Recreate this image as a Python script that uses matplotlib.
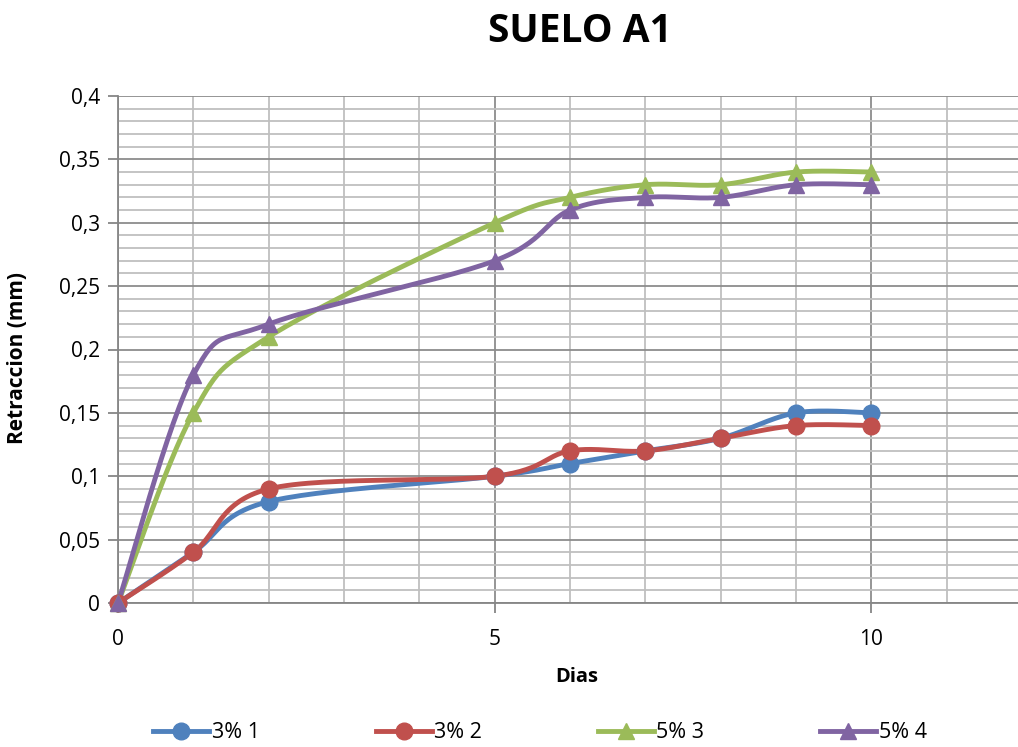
import numpy as np
import matplotlib
matplotlib.use("Agg")
import matplotlib.pyplot as plt
from matplotlib.ticker import MultipleLocator, FuncFormatter

dias = [0, 1, 2, 5, 6, 7, 8, 9, 10]
s1 = [0, 0.04, 0.08, 0.10, 0.11, 0.12, 0.13, 0.15, 0.15]
s2 = [0, 0.04, 0.09, 0.10, 0.12, 0.12, 0.13, 0.14, 0.14]
s3 = [0, 0.15, 0.21, 0.30, 0.32, 0.33, 0.33, 0.34, 0.34]
s4 = [0, 0.18, 0.22, 0.27, 0.31, 0.32, 0.32, 0.33, 0.33]
labels = ["3% 1", "3% 2", "5% 3", "5% 4"]
colors = ["#4F81BD", "#C0504D", "#9BBB59", "#8064A2"]
markers = ["o", "o", "^", "^"]


def smooth(x, y, n=30):
    x = np.asarray(x, float)
    y = np.asarray(y, float)
    px = np.concatenate([[x[0]], x, [x[-1]]])
    py = np.concatenate([[y[0]], y, [y[-1]]])
    ox, oy = [], []
    for i in range(1, len(px) - 2):
        p0 = np.array([px[i - 1], py[i - 1]])
        p1 = np.array([px[i], py[i]])
        p2 = np.array([px[i + 1], py[i + 1]])
        p3 = np.array([px[i + 2], py[i + 2]])
        c1 = p1 + (p2 - p0) / 6
        c2 = p2 - (p3 - p1) / 6
        t = np.linspace(0, 1, n)[:, None]
        b = ((1 - t) ** 3) * p1 + 3 * ((1 - t) ** 2) * t * c1 + 3 * (1 - t) * t ** 2 * c2 + t ** 3 * p2
        ox.extend(b[:, 0]); oy.extend(b[:, 1])
    return ox, oy


plt.rcParams['font.family'] = ['Open Sans', 'DejaVu Sans']
fig = plt.figure(figsize=(10.18, 7.47), dpi=100)
ax = fig.add_axes([118 / 1018, 1 - 603 / 747, 904 / 1018, (603 - 96) / 747])

for ys, lab, c, m in zip([s1, s2, s3, s4], labels, colors, markers):
    sx, sy = smooth(dias, ys)
    ax.plot(sx, sy, color=c, lw=3.5, solid_capstyle='round', zorder=3, clip_on=False)
    ax.plot(dias, ys, linestyle='none', marker=m, color=c, markersize=12, zorder=4, clip_on=False)
    ax.plot([], [], color=c, lw=3.5, marker=m, markersize=12, label=lab)

ax.set_xlim(0, 12)
ax.set_ylim(0, 0.4)
ax.xaxis.set_major_locator(MultipleLocator(5))
ax.xaxis.set_minor_locator(MultipleLocator(1))
ax.yaxis.set_major_locator(MultipleLocator(0.05))
ax.yaxis.set_minor_locator(MultipleLocator(0.01))
fmt = FuncFormatter(lambda v, p: ('%g' % round(v, 2)).replace('.', ','))
ax.yaxis.set_major_formatter(fmt)
ax.xaxis.set_major_formatter(FuncFormatter(lambda v, p: '%d' % v))

ax.grid(which='major', color='#8C8C8C', lw=1.3, zorder=0)
ax.grid(which='minor', color='#BFBFBF', lw=1.3, zorder=0)
ax.set_axisbelow(True)
for s in ['top', 'right']:
    ax.spines[s].set_visible(False)
for s in ['left', 'bottom']:
    ax.spines[s].set_color('#868686')
    ax.spines[s].set_linewidth(1.3)
ax.tick_params(which='major', length=7, width=1.3, color='#868686', labelsize=15, pad=6)
ax.tick_params(which='minor', length=0)
ax.tick_params(axis='x', pad=12)

ax.set_xlabel('Dias', fontsize=14.5, fontweight='bold')
ax.set_ylabel('Retraccion (mm)', fontsize=15, fontweight='bold')
ax.xaxis.set_label_coords((577 - 118) / 904, (603 - 677) / 507)
ax.yaxis.set_label_coords((18 - 118) / 904, (603 - 358) / 507)
ax.xaxis.label.set_va('center')
ax.yaxis.label.set_va('center')
fig.text(580 / 1018, 1 - 31 / 747, 'SUELO A1', fontsize=28, fontweight='bold', ha='center', va='center')

leg = fig.legend(loc='center', bbox_to_anchor=(540 / 1018, 1 - 733 / 747), ncol=4, frameon=False,
                 fontsize=15.5, handlelength=2.6, handletextpad=0.1, columnspacing=5.4)

fig.savefig('out.png', dpi=100)
